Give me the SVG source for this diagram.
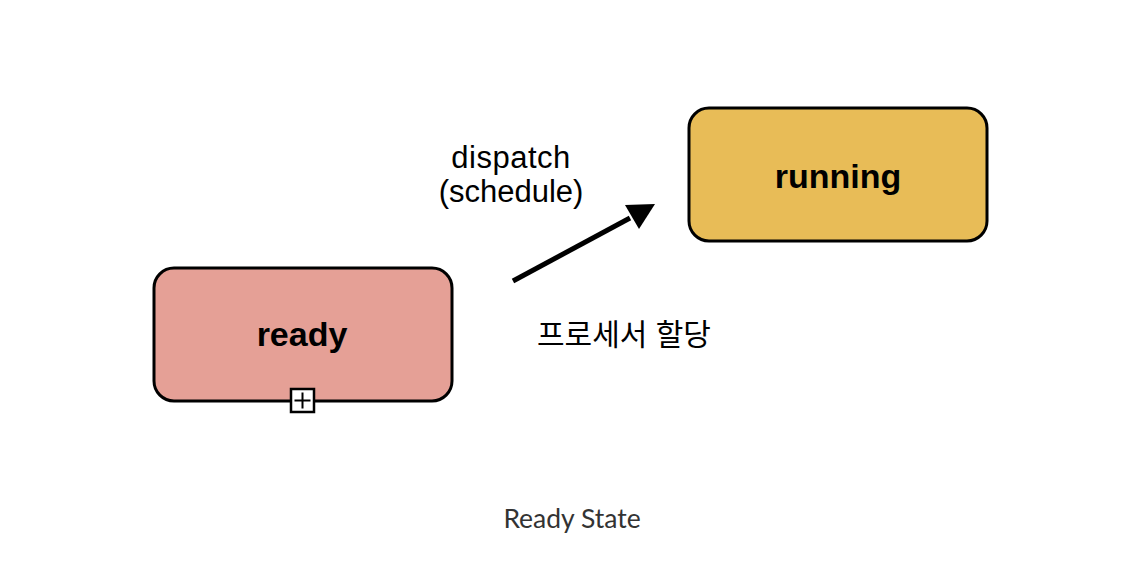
<svg xmlns="http://www.w3.org/2000/svg" width="1144" height="562" viewBox="0 0 1144 562">
<style>
.box{stroke:#000;stroke-width:3}
.lbl{font-family:"Liberation Sans",Arial,sans-serif;font-weight:bold;font-size:34px;fill:#000;text-anchor:middle}
.edge{font-family:"Liberation Sans","Noto Sans CJK KR",sans-serif;font-size:31px;fill:#000}
.ko{font-size:30px}
.cap{font-family:Lato,"Noto Sans",sans-serif;font-size:26.5px;fill:#333;text-anchor:middle}
</style>
<rect width="1144" height="562" fill="#fff"/>
<g id="ready">
<rect class="box" x="154" y="268" width="298" height="133" rx="20" fill="#E5A096"/>
<text class="lbl" x="302" y="346">ready</text>
<rect x="291" y="389" width="23" height="23" fill="#fff" stroke="#000" stroke-width="2.5"/>
<path d="M302.5,392.5 V408.5 M294.5,400.5 H310.5" stroke="#000" stroke-width="2"/>
</g>
<g id="running">
<rect class="box" x="689" y="108" width="298" height="133" rx="20" fill="#E8BC57"/>
<text class="lbl" x="838" y="188">running</text>
</g>
<g id="connectors">
<line x1="513" y1="281" x2="630" y2="218" stroke="#000" stroke-width="5"/>
<path d="M655,204 L625,205 L639,229 Z" fill="#000"/>
<text class="edge" x="511" y="168" text-anchor="middle" letter-spacing="0.5">dispatch</text>
<text class="edge" x="511" y="202" text-anchor="middle">(schedule)</text>
<text class="edge ko" x="537" y="345">프로세서 할당</text>
</g>
<text class="cap" x="572" y="528">Ready State</text>
</svg>
